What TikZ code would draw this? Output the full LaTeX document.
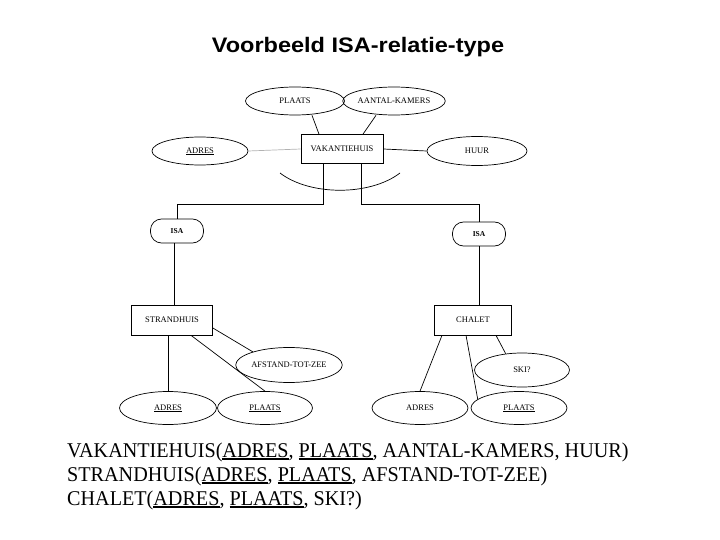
\documentclass[tikz,border=0pt]{standalone}
\usepackage{fontspec}
\setmainfont{Liberation Serif}
\newfontfamily\titlefont{Liberation Sans}
\usetikzlibrary{shapes.geometric}
\newcommand\ulsmall[1]{\setbox0\hbox{#1}\rlap{\rule[-1.2pt]{\wd0}{0.5pt}}\box0}
\newcommand\ulbig[1]{\setbox0\hbox{#1}\rlap{\rule[-2.6pt]{\wd0}{1.4pt}}\box0}
\newcommand\narrowtxt[1]{\scalebox{0.96}[1]{#1}}
\tikzset{
  attr/.style={ellipse, draw, line width=0.7pt, minimum width=97pt, minimum height=29pt, inner sep=0pt, font=\fontsize{8.5}{10}\selectfont},
  ent/.style={rectangle, draw, line width=0.7pt, minimum height=29pt, inner sep=0pt, font=\fontsize{8.5}{10}\selectfont},
  isa/.style={rectangle, rounded corners=11pt, draw, line width=0.7pt, minimum width=53pt, minimum height=24pt, inner sep=0pt, font=\bfseries\fontsize{7.5}{9}\selectfont},
  conn/.style={line width=0.7pt},
  bottomtxt/.style={anchor=base west, inner sep=0pt, font=\fontsize{21}{24}\selectfont}
}
\begin{document}
\begin{tikzpicture}[x=1pt,y=-1pt]
\useasboundingbox (0,0) rectangle (720,540);
\node[font=\titlefont\bfseries\fontsize{21}{24}\selectfont] (title) at (358,47) {\scalebox{1.12}[1]{Voorbeeld ISA-relatie-type}};
% top part
\node[ent, minimum width=82pt] (vak) at (342,149) {VAKANTIEHUIS};
\node[attr, minimum width=99pt, minimum height=28pt] (plaatsT) at (295,101) {PLAATS};
\node[attr, minimum height=28pt] (kamers) at (394,101) {AANTAL-KAMERS};
\node[attr, minimum width=96pt, minimum height=28pt] (adresT) at (200,151) {\ulsmall{ADRES}};
\node[attr, minimum width=100pt] (huur) at (477,151) {HUUR};
\draw[conn] ([xshift=17pt]plaatsT.south) -- ([xshift=-23pt]vak.north);
\draw[conn] ([xshift=-18pt]kamers.south) -- ([xshift=21pt]vak.north);
\draw[conn, gray!60] (adresT.east) -- (vak.west);
\draw[conn] (vak.east) -- (huur.west);
\draw[conn] (280,173) .. controls (310,196) and (370,196) .. (400,173);
% ISA
\node[isa] (isaL) at (177,231) {ISA};
\node[isa] (isaR) at (479,234) {ISA};
\draw[conn] ([xshift=-19pt]vak.south) -- ++(0,41) -| (isaL.north);
\draw[conn] ([xshift=19pt]vak.south) -- ++(0,41) -| (isaR.north);
% STRANDHUIS
\node[ent, minimum width=81pt, minimum height=30pt] (strand) at (172,320) {STRANDHUIS};
\draw[conn] (isaL.south -| 174,0) -- (strand.north -| 174,0);
\node[attr, minimum width=94pt, minimum height=35pt] (afstand) at (289,365) {AFSTAND-TOT-ZEE};
\node[attr, minimum height=33pt] (adresS) at (168,408) {\ulsmall{ADRES}};
\node[attr, minimum width=95pt, minimum height=33pt] (plaatsS) at (265,408) {\ulsmall{PLAATS}};
\draw[conn] (strand.south -| adresS.north) -- (adresS.north);
\draw[conn] ([xshift=19pt]strand.south) -- (plaatsS.north);
\draw[conn] ([yshift=-8pt]strand.east) -- (afstand.160);
% CHALET
\node[ent, minimum width=77pt, minimum height=30pt] (chalet) at (473,320) {CHALET};
\draw[conn] (isaR.south) -- (chalet.north -| isaR.south);
\node[attr, minimum width=95pt, minimum height=34pt] (ski) at (522,370) {SKI?};
\node[attr, minimum width=96pt, minimum height=33pt] (adresC) at (420,408) {ADRES};
\node[attr, minimum width=96pt, minimum height=33pt] (plaatsC) at (519,408) {\ulsmall{PLAATS}};
\draw[conn] ([xshift=-31pt]chalet.south) -- (adresC.north);
\draw[conn] ([xshift=-7pt]chalet.south) -- (plaatsC.168);
\draw[conn] ([xshift=23pt]chalet.south) -- (ski.135);
% bottom text
\node[bottomtxt] (l1) at (67,457) {\narrowtxt{VAKANTIEHUIS(\ulbig{ADRES}, \ulbig{PLAATS}, AANTAL-KAMERS, HUUR)}};
\node[bottomtxt] (l2) at (67,481) {\narrowtxt{STRANDHUIS(\ulbig{ADRES}, \ulbig{PLAATS}, AFSTAND-TOT-ZEE)}};
\node[bottomtxt] (l3) at (67,505) {\narrowtxt{CHALET(\ulbig{ADRES}, \ulbig{PLAATS}, SKI?)}};
\end{tikzpicture}
\end{document}
